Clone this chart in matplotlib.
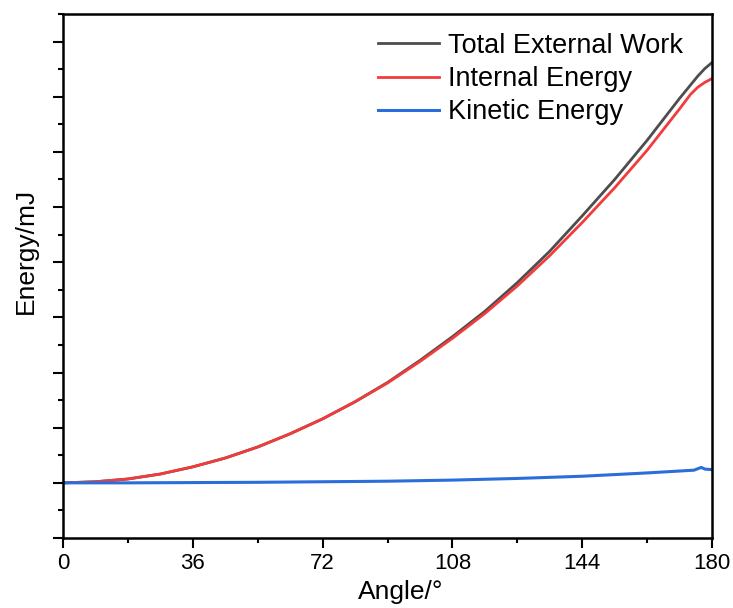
import matplotlib
matplotlib.use("Agg")
import matplotlib.pyplot as plt
from matplotlib.ticker import MultipleLocator, NullFormatter

plt.rcParams['font.family'] = ['Liberation Sans', 'DejaVu Sans']

# angle (deg) and energies (mJ)
angle = [0, 9, 18, 27, 36, 45, 54, 63, 72, 81, 90, 99, 108, 117, 126, 135,
         144, 153, 162, 171, 174, 176, 178, 180]
internal = [0.0, 0.02, 0.07, 0.16, 0.29, 0.45, 0.65, 0.89, 1.16, 1.47, 1.81,
            2.20, 2.62, 3.07, 3.57, 4.12, 4.72, 5.35, 6.03, 6.78, 7.04, 7.17,
            7.26, 7.33]
external = [0.0, 0.02, 0.07, 0.16, 0.29, 0.45, 0.65, 0.89, 1.16, 1.47, 1.82,
            2.22, 2.65, 3.11, 3.63, 4.20, 4.84, 5.50, 6.21, 6.97, 7.21, 7.37,
            7.51, 7.62]
kin_angle = [0, 18, 36, 54, 72, 90, 108, 126, 144, 162, 175, 177, 178, 180]
kinetic = [0.0, 0.0, 0.005, 0.01, 0.02, 0.03, 0.05, 0.08, 0.12, 0.18, 0.23,
           0.28, 0.25, 0.24]

fig = plt.figure(figsize=(7.33, 6.08), dpi=100)
ax = fig.add_axes([0.0859, 0.1151, 0.8855, 0.8619])

ax.plot(angle, external, color='#4d4d4d', lw=2.0, label='Total External Work')
ax.plot(angle, internal, color='#f23c3c', lw=2.0, label='Internal Energy')
ax.plot(kin_angle, kinetic, color='#2a6edb', lw=2.2, label='Kinetic Energy')

ax.set_xlim(0, 180)
ax.set_ylim(-1, 8.5)
ax.xaxis.set_major_locator(MultipleLocator(36))
ax.xaxis.set_minor_locator(MultipleLocator(18))
ax.yaxis.set_major_locator(MultipleLocator(1))
ax.yaxis.set_minor_locator(MultipleLocator(0.5))
ax.yaxis.set_major_formatter(NullFormatter())

ax.tick_params(which='major', direction='out', length=7, width=1.5,
               labelsize=16, pad=4)
ax.tick_params(which='minor', direction='out', length=3.5, width=1.5)
for s in ax.spines.values():
    s.set_linewidth(1.8)

ax.set_xlabel('Angle/°', fontsize=19, labelpad=4)
ax.set_ylabel('Energy/mJ', fontsize=19, labelpad=7)
ax.xaxis.label.set_x(0.521)
ax.yaxis.label.set_y(0.548)

ax.legend(loc='upper right', frameon=False, fontsize=19.5, handlelength=2.25,
          handletextpad=0.35, labelspacing=0.26, borderaxespad=0.3,
          bbox_to_anchor=(0.985, 1.0))

fig.savefig('out.png', dpi=100)
